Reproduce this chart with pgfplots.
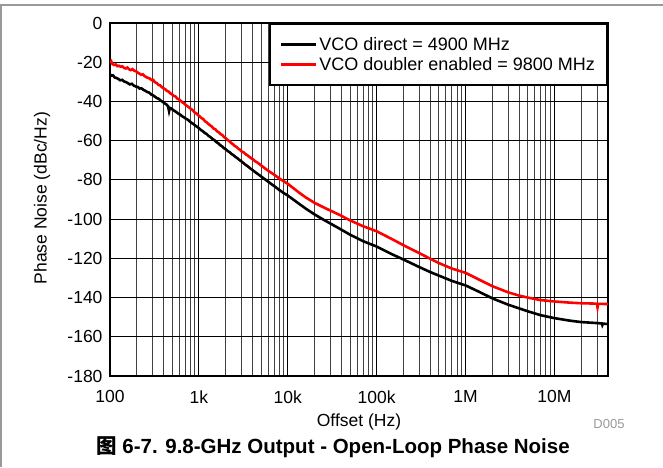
\documentclass[border=0pt]{standalone}
\usepackage{pgfplots}
\pgfplotsset{compat=1.18}
\usepackage{fontspec}
\setmainfont{Liberation Sans}
\newfontfamily\cjk{Noto Sans CJK SC}
\begin{document}
\begin{tikzpicture}[x=1pt,y=1pt]
\useasboundingbox (0,0) rectangle (663,467);
\draw[gray!80, line width=1.2pt] (1,0) -- (1,462) -- (663,462);
\begin{axis}[
  at={(110pt,91pt)}, anchor=south west,
  scale only axis, width=498pt, height=353pt,
  xmode=log, log basis x=10,
  xmin=100, xmax=4e7, ymin=-180, ymax=0,
  xtick={100,1000,10000,100000,1000000,10000000},
  xticklabels={100,1k,10k,100k,1M,10M},
  minor xtick={200,300,400,500,600,700,800,900,
    2000,3000,4000,5000,6000,7000,8000,9000,
    20000,30000,40000,50000,60000,70000,80000,90000,
    200000,300000,400000,500000,600000,700000,800000,900000,
    2e6,3e6,4e6,5e6,6e6,7e6,8e6,9e6,2e7,3e7},
  ytick={-180,-160,-140,-120,-100,-80,-60,-40,-20,0},
  yticklabels={-180,-160,-140,-120,-100,-80,-60,-40,-20,0},
  grid=both,
  major grid style={black, line width=0.9pt},
  minor grid style={black!75, line width=0.8pt},
  major tick length=0pt, minor tick length=0pt,
  axis line style={line width=2.4pt},
  ticklabel style={font=\fontsize{17.5}{21}\selectfont},
  xticklabel style={yshift=-11pt},
  yticklabel style={xshift=-4pt},
  xlabel={Offset (Hz)},
  ylabel={Phase Noise (dBc/Hz)},
  label style={font=\fontsize{17.5}{21}\selectfont},
  xlabel style={at={(axis description cs:0.5,-0.13)}, anchor=center},
  ylabel style={at={(axis description cs:-0.1365,0.504)}, anchor=center},
  legend style={at={(1,1)}, anchor=north east, draw=black, line width=2pt,
    inner xsep=10pt, inner ysep=11pt, font=\fontsize{18}{21}\selectfont,
    cells={anchor=west}, row sep=2pt},
  legend image code/.code={\draw[#1, line width=2.8pt] (0pt,0pt) -- (35pt,0pt);},
  clip=true,
]
\addplot[black, line width=2.6pt] coordinates {
(100,-26.2)(104,-26.9)(108,-26.7)(113,-27.8)(118,-28.0)(124,-28.5)(130,-29.2)(137,-29.0)(144,-29.8)(151,-30.1)
(159,-30.7)(167,-31.3)(176,-31.0)(185,-31.9)(195,-32.4)(205,-32.6)(215,-33.4)(226,-33.3)(238,-34.1)(250,-34.6)
(263,-35.2)(276,-35.5)(290,-36.4)(305,-36.9)(321,-37.6)(337,-38.3)(355,-38.7)(373,-39.6)(392,-40.2)(412,-41.0)
(433,-41.6)(450,-42.5)(462,-45.0)(472,-43.3)(490,-43.6)(510,-44.3)(535,-44.9)(560,-45.5)(590,-46.3)(620,-46.8)
(650,-47.6)(680,-48.1)(715,-48.8)(750,-49.3)(790,-50.2)(830,-51.0)(870,-51.5)(915,-52.4)(960,-53.0)(1000,-53.6)
(1050,-54.5)(1100,-55.1)(1160,-56.0)(1220,-56.6)(1280,-57.5)(1350,-58.2)(1420,-59.1)(1490,-59.7)(1570,-60.7)(1650,-61.3)
(1730,-62.2)(1820,-62.9)(1910,-63.8)(2010,-64.4)(2110,-65.3)(2220,-65.9)(2330,-66.8)(2450,-67.4)(2580,-68.3)(2710,-68.9)
(2850,-69.8)(3000,-70.5)(3150,-71.3)(3350,-72.3)(3550,-73.1)(3800,-74.2)(4100,-75.3)(4400,-76.4)(4800,-77.6)(5200,-78.8)
(5700,-80.1)(6300,-81.6)(7000,-83.1)(8000,-85.1)(9000,-86.7)(10000,-88.0)(12000,-90.6)(13500,-92.3)(16000,-94.7)(20000,-97.6)
(25000,-100.2)(30000,-102.2)(38000,-104.8)(50000,-107.9)(70000,-111.2)(100000,-114.0)(150000,-118.0)(200000,-120.6)(300000,-124.4)(400000,-127.0)
(500000,-128.8)(700000,-131.5)(1e6,-133.8)(1.5e6,-137.6)(2e6,-140.4)(3e6,-143.6)(4e6,-145.5)(5e6,-147.0)(7e6,-149.0)(1e7,-150.5)
(1.5e7,-151.8)(2e7,-152.5)(3e7,-153.0)(3.4e7,-153.2)(3.45e7,-154.0)(3.5e7,-153.3)(4e7,-153.5)
};
\addlegendentry{VCO direct = 4900 MHz}
\addplot[red, line width=2.6pt] coordinates {
(100,-20.2)(103,-19.5)(107,-21.0)(111,-21.4)(116,-21.1)(121,-22.0)(126,-21.8)(132,-22.3)(138,-22.1)(144,-22.9)
(150,-23.2)(157,-22.7)(164,-23.6)(171,-24.0)(179,-23.5)(187,-24.3)(196,-24.6)(205,-25.3)(214,-25.8)(224,-26.4)
(234,-26.2)(245,-27.1)(256,-27.6)(268,-28.0)(280,-28.3)(293,-29.1)(306,-29.0)(320,-30.2)(335,-30.6)(350,-31.5)
(366,-31.8)(383,-32.7)(400,-33.3)(418,-33.8)(437,-34.6)(457,-35.0)(478,-35.9)(500,-36.4)(523,-37.2)(547,-37.5)
(572,-38.6)(598,-39.0)(625,-39.7)(654,-40.5)(684,-41.0)(715,-41.9)(748,-42.5)(782,-43.2)(818,-43.9)(855,-44.5)
(895,-45.6)(936,-46.1)(979,-47.0)(1020,-47.6)(1070,-48.5)(1120,-49.0)(1170,-50.1)(1220,-50.6)(1280,-51.5)(1340,-52.2)
(1400,-52.8)(1460,-53.8)(1530,-54.2)(1600,-55.2)(1680,-55.8)(1760,-56.7)(1840,-57.2)(1920,-58.2)(2010,-58.8)(2110,-59.7)
(2210,-60.3)(2310,-61.2)(2420,-61.8)(2530,-62.7)(2650,-63.2)(2780,-64.1)(2910,-64.7)(3050,-65.6)(3200,-66.0)(3350,-66.9)
(3500,-67.4)(3700,-68.3)(3900,-69.0)(4100,-69.7)(4300,-70.5)(4600,-71.3)(5000,-72.6)(5500,-74.0)(6000,-75.3)(7000,-77.3)
(8000,-79.2)(9000,-80.7)(10000,-82.0)(12000,-84.8)(13500,-86.6)(16000,-89.0)(20000,-91.7)(25000,-93.9)(30000,-95.6)(38000,-97.8)
(50000,-100.6)(70000,-103.6)(100000,-106.2)(150000,-110.3)(200000,-113.3)(300000,-117.3)(400000,-120.2)(500000,-122.4)(700000,-125.2)(1e6,-127.4)
(1.5e6,-131.4)(2e6,-134.2)(3e6,-137.3)(4e6,-139.0)(5e6,-140.0)(7e6,-141.3)(1e7,-142.0)(1.5e7,-142.6)(2e7,-142.9)(3e7,-143.1)
(3.05e7,-145.0)(3.1e7,-143.2)(4e7,-143.3)
};
\addlegendentry{VCO doubler enabled = 9800 MHz}
\end{axis}
\node[font=\fontsize{13}{15}\selectfont, text=black!40] at (609,43) {D005};
\node[font=\fontsize{20.5}{24}\selectfont\bfseries] at (333,20) {{\cjk\bfseries 图} 6-7. 9.8-GHz Output - Open-Loop Phase Noise};
\end{tikzpicture}
\end{document}
